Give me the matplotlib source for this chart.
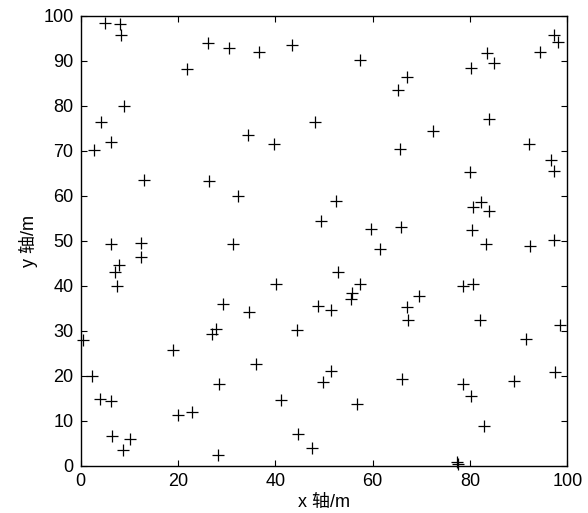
import matplotlib
matplotlib.use("Agg")
import matplotlib.pyplot as plt

plt.rcParams['font.family'] = ['Liberation Sans', 'Noto Sans CJK SC', 'DejaVu Sans']

# node positions (m)
x_pos = [5.0, 8.1, 8.4, 21.8, 26.1, 30.4, 36.6, 43.4, 9.0, 4.2,
         6.2, 2.7, 48.1, 34.3, 39.8, 13.0, 26.4, 32.4, 6.2, 12.4,
         31.4, 12.4, 7.9, 7.0, 7.4, 40.1, 29.2, 34.6, 26.9, 27.8,
         44.5, 48.7, 0.4, 19.0, 2.3, 36.0, 28.4, 4.0, 6.2, 41.2,
         20.1, 22.9, 6.4, 10.1, 8.8, 44.7, 47.5, 28.2, 49.7,
         57.3, 67.0, 65.1, 80.2, 83.5, 84.9, 94.3, 97.2, 98.1, 83.8,
         72.4, 65.6, 92.1, 96.6, 97.2, 79.9, 52.5, 80.7, 82.3, 83.9,
         49.4, 59.6, 65.9, 80.4, 61.6, 83.3, 92.3, 97.2,
         52.8, 57.4, 55.8, 55.6, 51.4, 69.6, 67.0, 67.3, 78.6, 80.7,
         82.1, 98.5, 91.5, 51.4, 66.0, 78.6, 80.2, 89.0, 97.5, 56.8,
         82.9, 77.3, 77.6]
y_pos = [98.5, 98.1, 95.7, 88.2, 94.0, 92.9, 91.9, 93.6, 79.9, 76.5,
         71.9, 70.3, 76.5, 73.5, 71.6, 63.6, 63.3, 59.9, 49.2, 49.6,
         49.2, 46.4, 44.6, 43.0, 39.9, 40.3, 35.9, 34.1, 29.3, 30.3,
         30.1, 35.6, 27.9, 25.7, 19.9, 22.7, 18.1, 14.9, 14.3, 14.7,
         11.3, 11.9, 6.6, 6.0, 3.6, 7.0, 3.9, 2.3, 18.7,
         90.3, 86.4, 83.6, 88.5, 91.8, 89.5, 92.0, 95.8, 94.1, 77.0,
         74.4, 70.4, 71.6, 67.9, 65.6, 65.2, 58.8, 57.5, 58.7, 56.6,
         54.5, 52.6, 53.1, 52.4, 48.1, 49.4, 48.9, 50.3,
         43.0, 40.3, 38.5, 37.1, 34.7, 37.8, 35.3, 32.5, 39.9, 40.3,
         32.5, 31.3, 28.2, 21.1, 19.3, 18.1, 15.6, 18.8, 20.8, 13.8,
         8.8, 0.9, 0.4]

ticks = [0, 20, 40, 60, 80, 100]
yticks = [0, 10, 20, 30, 40, 50, 60, 70, 80, 90, 100]

fig = plt.figure(figsize=(5.88, 5.13), dpi=100)
ax = fig.add_axes([0.137, 0.092, 0.828, 0.877])

ax.plot(x_pos, y_pos, '+', color='black', markersize=9, markeredgewidth=0.9,
        clip_on=False)

ax.set_xlim(0, 100)
ax.set_ylim(0, 100)
ax.set_xticks(ticks)
ax.set_yticks(yticks)
ax.tick_params(direction='in', length=4, width=0.8, top=True, right=True,
               labelsize=13, pad=5)
for s in ax.spines.values():
    s.set_linewidth(1.0)

ax.set_xlabel('x 轴/m', fontsize=13, labelpad=3)
ax.set_ylabel('y 轴/m', fontsize=13, labelpad=4)

fig.savefig('out.png', dpi=100)
